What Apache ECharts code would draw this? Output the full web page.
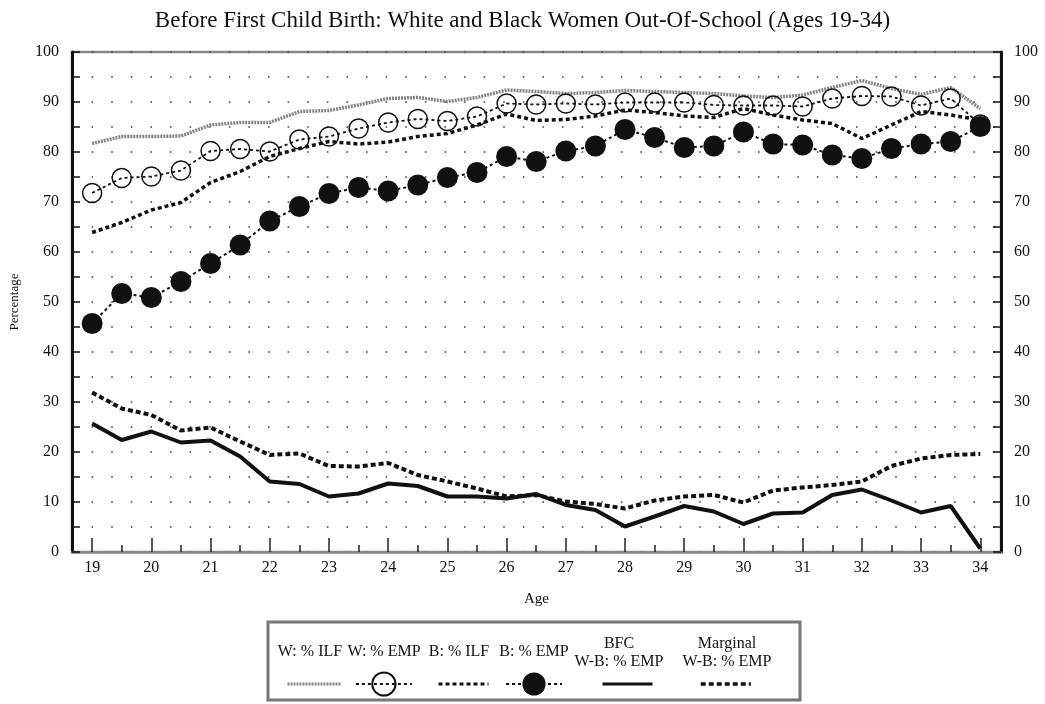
<!DOCTYPE html>
<html>
<head>
<meta charset="utf-8">
<script src="https://cdn.jsdelivr.net/npm/echarts@6/dist/echarts.min.js"></script>
<style>html,body{margin:0;padding:0;background:#fff;}#c{width:1045px;height:704px;}</style>
</head>
<body>
<div id="c"></div>
<script>
const titleText = 'Before First Child Birth: White and Black Women Out-Of-School (Ages 19-34)';
const ages = [19,19.5,20,20.5,21,21.5,22,22.5,23,23.5,24,24.5,25,25.5,26,26.5,27,27.5,28,28.5,29,29.5,30,30.5,31,31.5,32,32.5,33,33.5,34];
const xTickLabels = [19,20,21,22,23,24,25,26,27,28,29,30,31,32,33,34];
const halfTicks = [19.5,20.5,21.5,22.5,23.5,24.5,25.5,26.5,27.5,28.5,29.5,30.5,31.5,32.5,33.5];
const yTicks = [0,5,10,15,20,25,30,35,40,45,50,55,60,65,70,75,80,85,90,95,100];
const seriesNames = ['W: % ILF','W: % EMP','B: % ILF','B: % EMP','BFC\nW-B: % EMP','Marginal\nW-B: % EMP'];

const wILF = [81.7,83.1,83.1,83.2,85.4,85.9,85.9,88.1,88.3,89.4,90.7,90.9,90.1,90.9,92.4,92.1,91.7,91.9,92.3,92.1,91.9,91.7,91.2,90.9,91.4,92.9,94.3,92.7,91.5,92.9,88.7];
const wEMP = [71.8,74.8,75.1,76.3,80.2,80.6,80.1,82.5,83.1,84.7,85.9,86.6,86.2,87.1,89.7,89.5,89.7,89.5,89.9,89.9,89.9,89.4,89.3,89.3,89.1,90.7,91.2,91.1,89.3,90.7,85.5];
const bILF = [63.9,65.9,68.4,69.9,73.9,76.1,79.1,80.7,82.1,81.6,82.0,83.1,83.7,85.4,87.6,86.3,86.5,87.2,88.4,87.9,87.2,86.9,88.7,87.4,86.4,85.7,82.7,85.4,88.1,87.4,86.4];
const bEMP = [45.7,51.7,50.9,54.1,57.7,61.4,66.2,69.1,71.7,72.9,72.2,73.4,74.9,75.9,79.1,78.1,80.2,81.2,84.5,82.9,80.9,81.2,84.0,81.6,81.4,79.4,78.7,80.7,81.6,82.1,85.1];
const bfc = [25.7,22.4,24.1,21.9,22.3,19.1,14.1,13.6,11.1,11.7,13.7,13.2,11.1,11.1,10.7,11.6,9.4,8.4,5.1,7.1,9.2,8.1,5.6,7.7,7.9,11.4,12.5,10.3,7.9,9.2,0.7];
const marginal = [31.9,28.7,27.4,24.3,24.9,22.1,19.4,19.7,17.2,17.1,17.8,15.4,14.1,12.7,11.1,11.4,10.1,9.6,8.7,10.3,11.1,11.4,9.9,12.3,12.9,13.4,14.1,17.2,18.7,19.4,19.6];

const pairs = arr => ages.map((a, i) => [a, arr[i]]);
const serif = 'Liberation Serif';

const chart = echarts.init(document.getElementById('c'), null, {renderer: 'canvas'});

const legendPos = [
  {x: 286, w: 54, h: 10, sym: false, lw: 3},
  {x: 355, w: 56, h: 29, sym: true, lw: 1.8},
  {x: 437, w: 50, h: 10, sym: false, lw: 3},
  {x: 505, w: 56, h: 29, sym: true, lw: 2},
  {x: 601, w: 50, h: 10, sym: false, lw: 3},
  {x: 699, w: 50, h: 10, sym: false, lw: 3.5}
];
const legendTexts = [
  {x: 310, y: 652, t: 'W: % ILF'},
  {x: 384, y: 652, t: 'W: % EMP'},
  {x: 459, y: 652, t: 'B: % ILF'},
  {x: 534, y: 652, t: 'B: % EMP'},
  {x: 619, y: 653, t: 'BFC\nW-B: % EMP'},
  {x: 727, y: 653, t: 'Marginal\nW-B: % EMP'}
];

const option = {
  backgroundColor: '#fff',
  animation: false,
  title: {
    text: titleText, left: 'center', top: 4,
    textStyle: {fontFamily: serif, fontSize: 23, fontWeight: 'normal', color: '#111'}
  },
  grid: {left: 68, right: 44, top: 52, bottom: 152, show: true, borderColor: '#888', borderWidth: 2.5, backgroundColor: 'transparent'},
  legend: seriesNames.map((n, i) => {
    const l = {
      data: [n], left: legendPos[i].x, top: 684 - legendPos[i].h / 2,
      itemWidth: legendPos[i].w, itemHeight: legendPos[i].h, itemGap: 0,
      formatter: () => '', selectedMode: false, padding: 0,
      lineStyle: {width: legendPos[i].lw}
    };
    if (!legendPos[i].sym) l.itemStyle = {opacity: 0};
    return l;
  }),
  xAxis: [
    {
      type: 'value', min: 18.66, max: 34.35, position: 'bottom',
      name: 'Age', nameLocation: 'middle', nameGap: 40,
      nameTextStyle: {fontFamily: serif, fontSize: 15, color: '#111'},
      axisLine: {show: true, lineStyle: {color: '#888', width: 2.5}},
      axisTick: {show: true, inside: true, length: 14, customValues: xTickLabels, lineStyle: {color: '#222', width: 1.5}},
      axisLabel: {customValues: xTickLabels, fontFamily: serif, fontSize: 16, color: '#111', margin: 8},
      splitLine: {show: false}
    },
    {
      type: 'value', min: 18.66, max: 34.35, position: 'bottom',
      axisLine: {show: false},
      axisTick: {show: true, inside: true, length: 7, customValues: halfTicks, lineStyle: {color: '#222', width: 1.5}},
      axisLabel: {show: false},
      splitLine: {show: false}
    }
  ],
  yAxis: [
    {
      type: 'value', min: 0, max: 100, interval: 10, position: 'left',
      name: 'Percentage', nameLocation: 'middle', nameGap: 51, nameRotate: 90,
      nameTextStyle: {fontFamily: serif, fontSize: 13, color: '#111'},
      axisLine: {show: true, lineStyle: {color: '#111', width: 3}},
      axisTick: {show: true, inside: true, length: 8, customValues: yTicks, lineStyle: {color: '#111', width: 1.5}},
      axisLabel: {fontFamily: serif, fontSize: 16, color: '#111', margin: 13},
      splitLine: {show: true, lineStyle: {color: '#444', width: 1.6, type: [1.6, 18]}}
    },
    {
      type: 'value', min: 0, max: 100, interval: 10, position: 'right',
      axisLine: {show: true, lineStyle: {color: '#111', width: 3}},
      axisTick: {show: true, inside: true, length: 8, customValues: yTicks, lineStyle: {color: '#111', width: 1.5}},
      axisLabel: {fontFamily: serif, fontSize: 16, color: '#111', margin: 13},
      splitLine: {show: false}
    }
  ],
  series: [
    {name: seriesNames[0], type: 'line', data: pairs(wILF), symbol: 'none', z: 3,
     lineStyle: {color: '#858585', width: 3.5, type: [2, 1]}, itemStyle: {color: '#858585'}},
    {name: seriesNames[1], type: 'line', data: pairs(wEMP), symbol: 'circle', symbolSize: 19, z: 4,
     lineStyle: {color: '#111', width: 1.8, type: [3, 3]},
     itemStyle: {color: 'rgba(255,255,255,0)', borderColor: '#111', borderWidth: 1.5}},
    {name: seriesNames[2], type: 'line', data: pairs(bILF), symbol: 'none', z: 3,
     lineStyle: {color: '#111', width: 3.5, type: [4, 3]}, itemStyle: {color: '#111'}},
    {name: seriesNames[3], type: 'line', data: pairs(bEMP), symbol: 'circle', symbolSize: 21, z: 5,
     lineStyle: {color: '#111', width: 2, type: [3, 3]},
     itemStyle: {color: '#111', borderColor: '#111', borderWidth: 0}},
    {name: seriesNames[4], type: 'line', data: pairs(bfc), symbol: 'none', z: 3,
     lineStyle: {color: '#111', width: 4}, itemStyle: {color: '#111'}},
    {name: seriesNames[5], type: 'line', data: pairs(marginal), symbol: 'none', z: 3,
     lineStyle: {color: '#111', width: 4, type: [5, 3]}, itemStyle: {color: '#111'}}
  ],
  graphic: [
    {type: 'rect', shape: {x: 268, y: 622, width: 532, height: 78}, style: {fill: 'none', stroke: '#777', lineWidth: 3}, z: 1},
    ...legendTexts.map(t => ({
      type: 'text', x: t.x, y: t.y, z: 2,
      style: {text: t.t, fill: '#111', font: '16px "Liberation Serif"', align: 'center', verticalAlign: 'middle', lineHeight: 18}
    }))
  ]
};
chart.setOption(option);
</script>
</body>
</html>
